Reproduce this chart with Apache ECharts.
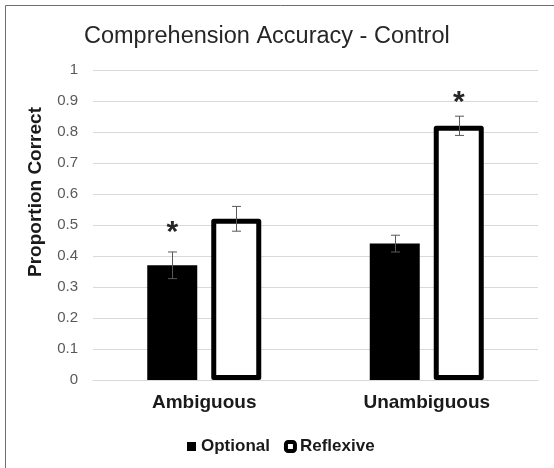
<!DOCTYPE html>
<html>
<head>
<meta charset="utf-8">
<script src="https://cdn.jsdelivr.net/npm/echarts@6/dist/echarts.min.js"></script>
<style>html,body{margin:0;padding:0;background:#fff;}#c{width:554px;height:468px;}</style>
</head>
<body>
<div id="c"></div>
<script>
var categories = ['Ambiguous', 'Unambiguous'];
var seriesNames = ['Optional', 'Reflexive'];
var optionalValues = [0.37, 0.44];
var optionalErrors = [0.043, 0.027];
var reflexiveValues = [0.52, 0.82];
var reflexiveErrors = [0.04, 0.031];
var optionalStars = [0.492, null];
var reflexiveStars = [null, 0.911];
var yTicks = [0, 0.1, 0.2, 0.3, 0.4, 0.5, 0.6, 0.7, 0.8, 0.9, 1];

var BAR_W = 50, BAR_GAP = 0.28;
var OFFSET = (BAR_W + BAR_W * BAR_GAP) / 2;
var FONT = 'Liberation Sans, Arial, sans-serif';

function errorSeries(values, errors, dir) {
  var data = values.map(function (v, i) { return [i, v - errors[i], v + errors[i]]; });
  return {
    type: 'custom',
    silent: true,
    z: 10,
    data: data,
    renderItem: function (params, api) {
      var lo = api.coord([api.value(0), api.value(1)]);
      var hi = api.coord([api.value(0), api.value(2)]);
      var x = Math.round(lo[0] + dir * OFFSET) + 0.5;
      var cap = 4.5;
      var st = { stroke: '#595959', lineWidth: 1 };
      return {
        type: 'group',
        children: [
          { type: 'line', shape: { x1: x, y1: hi[1], x2: x, y2: lo[1] }, style: st },
          { type: 'line', shape: { x1: x - cap, y1: hi[1], x2: x + cap, y2: hi[1] }, style: st },
          { type: 'line', shape: { x1: x - cap, y1: lo[1], x2: x + cap, y2: lo[1] }, style: st }
        ]
      };
    }
  };
}

function starSeries(stars, dir) {
  var data = [];
  stars.forEach(function (s, i) { if (s != null) data.push([i, s]); });
  return {
    type: 'custom',
    silent: true,
    z: 11,
    data: data,
    renderItem: function (params, api) {
      var p = api.coord([api.value(0), api.value(1)]);
      return {
        type: 'text',
        x: p[0] + dir * OFFSET,
        y: p[1] + 5,
        style: {
          text: '*',
          fontSize: 30,
          fontWeight: 'bold',
          fontFamily: FONT,
          fill: '#262626',
          align: 'center',
          verticalAlign: 'middle'
        }
      };
    }
  };
}

var chart = echarts.init(document.getElementById('c'), null, { renderer: 'canvas' });
chart.setOption({
  animation: false,
  backgroundColor: '#fff',
  graphic: [{
    type: 'rect',
    shape: { x: 5.5, y: 5.5, width: 700, height: 700 },
    style: { fill: 'none', stroke: '#6f6f6f', lineWidth: 1 },
    z: 0
  }],
  title: {
    text: 'Comprehension Accuracy - Control',
    left: 79,
    top: 20,
    textStyle: { fontFamily: FONT, fontSize: 23.5, fontWeight: 'normal', color: '#262626' }
  },
  legend: {
    left: 182,
    top: 433,
    itemWidth: 9,
    itemHeight: 9,
    itemGap: 14,
    textStyle: { fontFamily: FONT, fontSize: 17, fontWeight: 'bold', color: '#1a1a1a' },
    data: [
      { name: 'Optional', icon: 'rect', itemStyle: { color: '#000', borderWidth: 0 } },
      { name: 'Reflexive', icon: 'roundRect', itemStyle: { color: '#fff', borderColor: '#000', borderWidth: 4 } }
    ]
  },
  grid: { left: 93, right: 16, top: 70, bottom: 88 },
  xAxis: {
    type: 'category',
    data: categories,
    axisLine: { lineStyle: { color: '#d9d9d9' } },
    axisTick: { show: false },
    axisLabel: { fontFamily: FONT, fontSize: 19, fontWeight: 'bold', color: '#1a1a1a', margin: 13 }
  },
  yAxis: {
    type: 'value',
    min: yTicks[0],
    max: yTicks[yTicks.length - 1],
    interval: 0.1,
    name: 'Proportion Correct',
    nameLocation: 'middle',
    nameGap: 48,
    nameTextStyle: { fontFamily: FONT, fontSize: 19, fontWeight: 'bold', color: '#1a1a1a', padding: [0, 0, 0, 66] },
    axisLine: { show: false },
    axisTick: { show: false },
    splitLine: { lineStyle: { color: '#d9d9d9' } },
    axisLabel: {
      fontFamily: FONT, fontSize: 15, color: '#595959', margin: 15,
      formatter: function (v) { return String(Math.round(v * 10) / 10); }
    }
  },
  series: [
    {
      name: seriesNames[0], type: 'bar', data: optionalValues,
      barWidth: BAR_W, barGap: (BAR_GAP * 100) + '%',
      itemStyle: { color: '#000' }
    },
    {
      name: seriesNames[1], type: 'bar', data: reflexiveValues,
      barWidth: BAR_W,
      itemStyle: { color: '#fff', borderColor: '#000', borderWidth: 5, borderJoin: 'round' }
    },
    errorSeries(optionalValues, optionalErrors, -1),
    errorSeries(reflexiveValues, reflexiveErrors, 1),
    starSeries(optionalStars, -1),
    starSeries(reflexiveStars, 1)
  ]
});
</script>
</body>
</html>
